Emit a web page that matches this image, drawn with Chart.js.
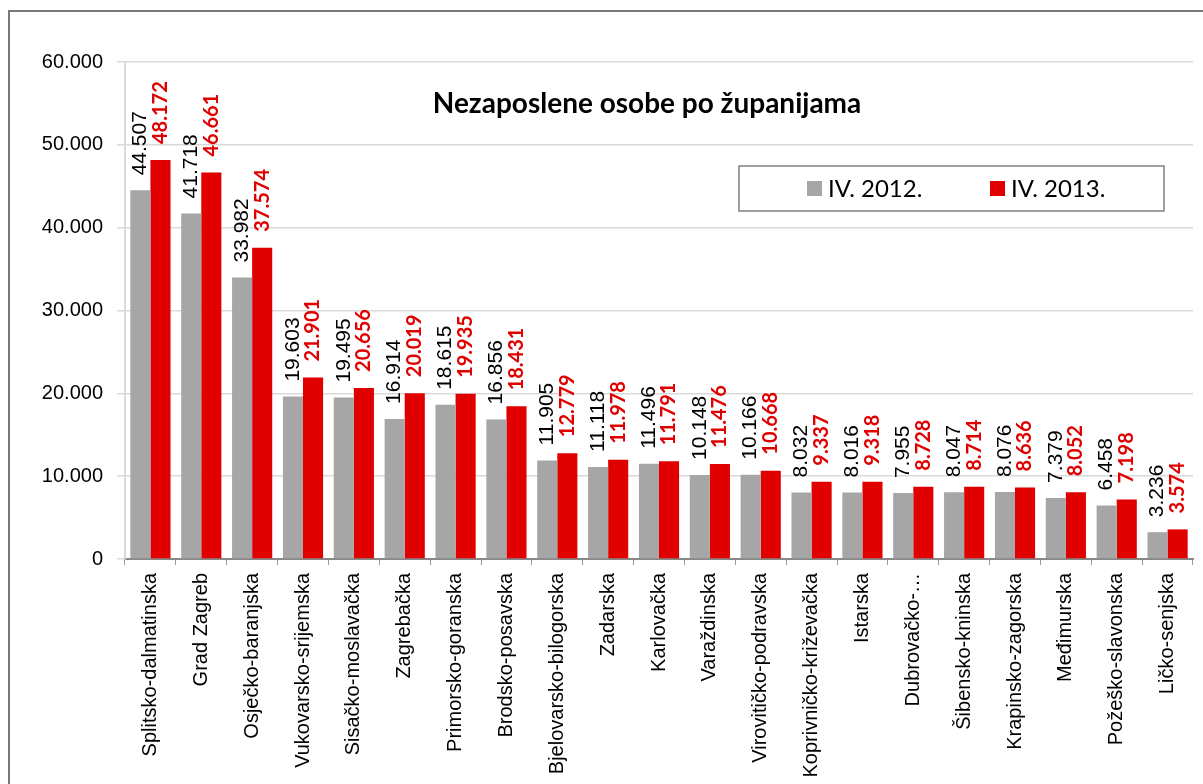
<!DOCTYPE html>
<html>
<head>
<meta charset="utf-8">
<script src="https://cdn.jsdelivr.net/npm/chart.js@4.4.1/dist/chart.umd.min.js"></script>
<style>
  html, body { margin: 0; padding: 0; background: #fff; }
  #wrap { position: relative; width: 1203px; height: 784px; }
</style>
</head>
<body>
<div id="wrap"><canvas id="chart" width="1203" height="784"></canvas></div>
<script>
const counties = [
    'Splitsko-dalmatinska', 'Grad Zagreb', 'Osječko-baranjska', 'Vukovarsko-srijemska',
    'Sisačko-moslavačka', 'Zagrebačka', 'Primorsko-goranska', 'Brodsko-posavska',
    'Bjelovarsko-bilogorska', 'Zadarska', 'Karlovačka', 'Varaždinska',
    'Virovitičko-podravska', 'Koprivničko-križevačka', 'Istarska', 'Dubrovačko-…',
    'Šibensko-kninska', 'Krapinsko-zagorska', 'Međimurska', 'Požeško-slavonska', 'Ličko-senjska'
];
const april2012 = [44507, 41718, 33982, 19603, 19495, 16914, 18615, 16856, 11905, 11118,
    11496, 10148, 10166, 8032, 8016, 7955, 8047, 8076, 7379, 6458, 3236];
const april2013 = [48172, 46661, 37574, 21901, 20656, 20019, 19935, 18431, 12779, 11978,
    11791, 11476, 10668, 9337, 9318, 8728, 8714, 8636, 8052, 7198, 3574];
const yTicks = [0, 10000, 20000, 30000, 40000, 50000, 60000];
const chartTitle = 'Nezaposlene osobe po županijama';

const fmt = v => v === 0 ? '0' : v.toLocaleString('de-DE');

// outer frame, title, legend box and rotated value labels
const extras = {
    id: 'extras',
    afterDatasetsDraw(chart) {
        const ctx = chart.ctx;
        ctx.save();

        // value labels above bars
        chart.data.datasets.forEach((ds, di) => {
            const meta = chart.getDatasetMeta(di);
            meta.data.forEach((bar, i) => {
                ctx.save();
                ctx.translate(bar.x, bar.y - (di === 0 ? 15 : 16));
                ctx.rotate(-Math.PI / 2);
                ctx.textAlign = 'left';
                ctx.textBaseline = 'middle';
                ctx.fillStyle = di === 0 ? '#000' : '#e00000';
                ctx.font = di === 0 ? '21px "Liberation Sans", Arial' : 'bold 20px Lato, "Liberation Sans"';
                ctx.fillText(fmt(ds.data[i]), 0, 0);
                ctx.restore();
            });
        });

        // title
        ctx.fillStyle = '#000';
        ctx.font = 'bold 28px Lato, "Liberation Sans"';
        ctx.textAlign = 'center';
        ctx.textBaseline = 'middle';
        ctx.fillText(chartTitle, 647, 104);

        // legend
        ctx.fillStyle = '#fff';
        ctx.fillRect(739, 166, 425, 45);
        ctx.strokeStyle = '#808080';
        ctx.lineWidth = 1.5;
        ctx.strokeRect(739, 166, 425, 45);
        ctx.font = '24px Lato, "Liberation Sans"';
        ctx.textAlign = 'left';
        const lx = [807, 990];
        chart.data.datasets.forEach((ds, di) => {
            ctx.fillStyle = ds.backgroundColor;
            ctx.fillRect(lx[di], 181, 15, 15);
            ctx.fillStyle = '#000';
            ctx.fillText(ds.label, lx[di] + 21, 189);
        });

        // frame
        ctx.strokeStyle = '#777';
        ctx.lineWidth = 2;
        ctx.beginPath();
        ctx.moveTo(9, 790);
        ctx.lineTo(9, 11);
        ctx.lineTo(1210, 11);
        ctx.stroke();
        ctx.restore();
    }
};

new Chart(document.getElementById('chart'), {
    type: 'bar',
    data: {
        labels: counties,
        datasets: [
            { label: 'IV. 2012.', data: april2012, backgroundColor: '#a6a6a6' },
            { label: 'IV. 2013.', data: april2013, backgroundColor: '#e00000' }
        ]
    },
    options: {
        responsive: false,
        animation: false,
        layout: { padding: { top: 62, right: 10, left: 0, bottom: 0 } },
        datasets: { bar: { categoryPercentage: 0.79, barPercentage: 1.0 } },
        plugins: {
            legend: { display: false },
            title: { display: false },
            tooltip: { enabled: false }
        },
        scales: {
            x: {
                grid: { display: true, drawOnChartArea: false, offset: true, tickLength: 6, color: '#999' },
                border: { color: '#888', width: 2 },
                ticks: {
                    autoSkip: false,
                    maxRotation: 90,
                    minRotation: 90,
                    padding: 8,
                    color: '#000',
                    font: { family: '"Liberation Sans", Arial', size: 20 }
                },
                afterFit(scale) { scale.height = 784 - 559; }
            },
            y: {
                min: 0,
                max: 60000,
                afterBuildTicks(scale) { scale.ticks = yTicks.map(v => ({ value: v })); },
                grid: { color: '#d9d9d9', lineWidth: 1.5, tickLength: 8 },
                border: { color: '#d9d9d9', width: 2 },
                ticks: {
                    padding: 14,
                    color: '#000',
                    font: { family: '"Liberation Sans", Arial', size: 20 },
                    callback: v => fmt(v)
                },
                afterFit(scale) { scale.width = 125; }
            }
        }
    },
    plugins: [extras]
});
</script>
</body>
</html>
